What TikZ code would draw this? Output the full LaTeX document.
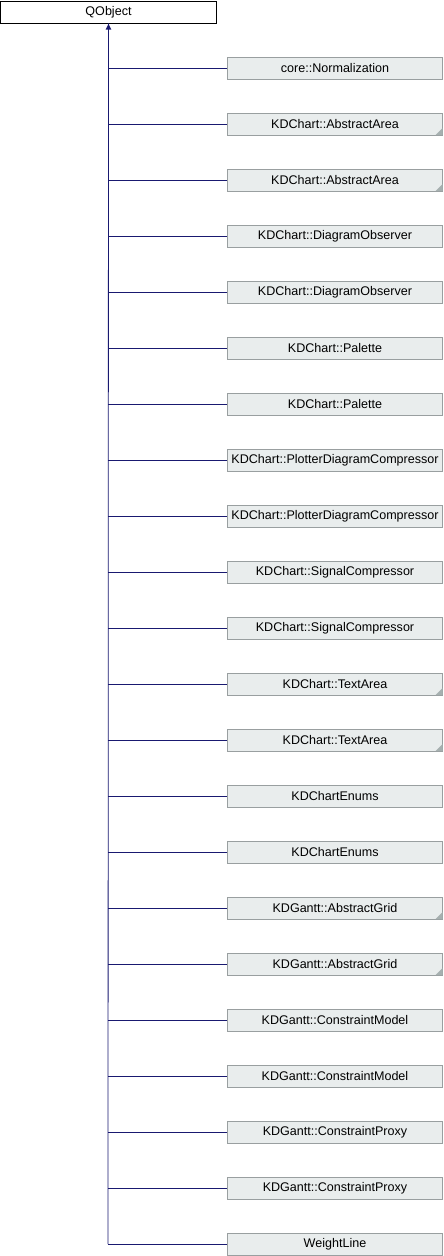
\documentclass[tikz,border=0pt]{standalone}
\usepackage{fontspec}
\setmainfont{Liberation Sans}
\definecolor{edgeblue}{HTML}{191970}
\definecolor{boxfill}{HTML}{E9EDED}
\definecolor{boxdraw}{HTML}{999FA0}
\definecolor{cornerc}{HTML}{A6B0B0}
\begin{document}
\begin{tikzpicture}[x=1bp,y=-1bp,
  rootbox/.style={draw=black,fill=white,line width=0.8bp,minimum width=216bp,minimum height=22bp,inner sep=0pt,font=\fontsize{12.6}{14}\selectfont},
  childbox/.style={draw=boxdraw,fill=boxfill,line width=0.8bp,minimum width=215bp,minimum height=22bp,inner sep=0pt,font=\fontsize{12.6}{14}\selectfont},
  edge/.style={draw=edgeblue,line width=0.8bp},
  corner/.style={fill=cornerc}]
\useasboundingbox (0,0) rectangle (444,1256);
\node[rootbox] (root) at (108.5,12) {QObject};
\foreach \i/\t/\c in {0/core::Normalization/0,
 1/KDChart::AbstractArea/1, 2/KDChart::AbstractArea/1,
 3/KDChart::DiagramObserver/0, 4/KDChart::DiagramObserver/0,
 5/KDChart::Palette/0, 6/KDChart::Palette/0,
 7/KDChart::PlotterDiagramCompressor/0, 8/KDChart::PlotterDiagramCompressor/0,
 9/KDChart::SignalCompressor/0, 10/KDChart::SignalCompressor/0,
 11/KDChart::TextArea/1, 12/KDChart::TextArea/1,
 13/KDChartEnums/0, 14/KDChartEnums/0,
 15/KDGantt::AbstractGrid/1, 16/KDGantt::AbstractGrid/1,
 17/KDGantt::ConstraintModel/0, 18/KDGantt::ConstraintModel/0,
 19/KDGantt::ConstraintProxy/0, 20/KDGantt::ConstraintProxy/0,
 21/WeightLine/0}{
  \node[childbox] (c\i) at (335,68+56*\i) {\t};
  \ifnum\c=1
    \fill[corner] ([xshift=-0.4bp,yshift=0.4bp]c\i.south east) -- ++(0,-7) -- ++(-7,7) -- cycle;
  \fi
  \draw[edge] (c\i.west) -- (108,68+56*\i);
}
\coordinate (bend) at (108,1244);
\draw[edge] (bend) -- (root.south);
\fill[edgeblue] (root.south) ++(0,0.6) -- ++(2.8,5.5) -- ++(-5.6,0) -- cycle;
\end{tikzpicture}
\end{document}
